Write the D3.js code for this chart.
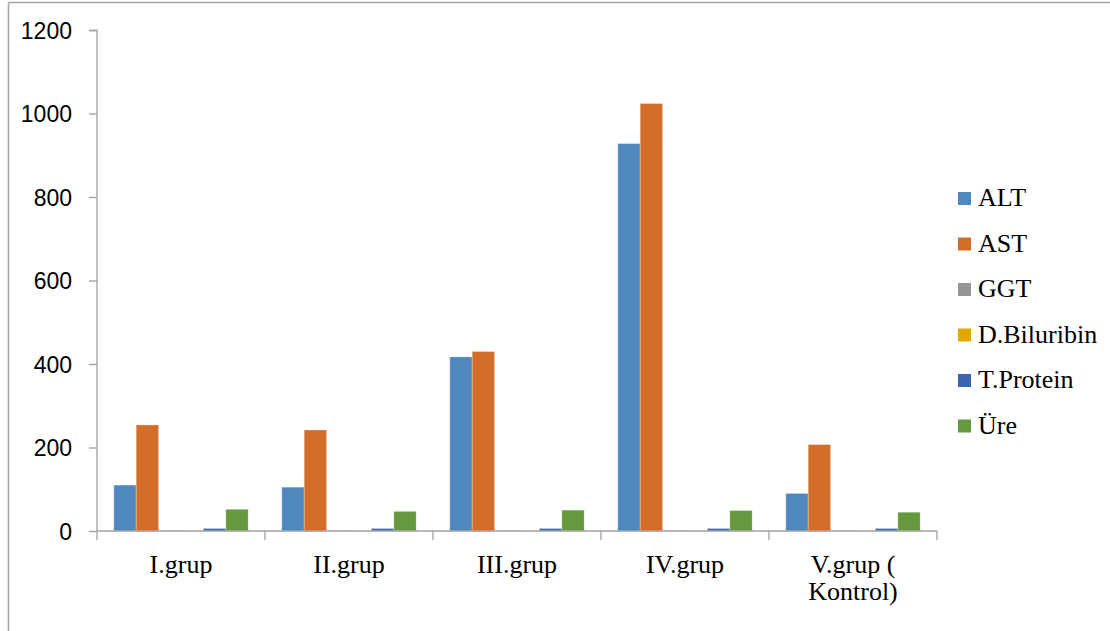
<!DOCTYPE html>
<html>
<head>
<meta charset="utf-8">
<script src="https://cdn.jsdelivr.net/npm/d3@7"></script>
<style>
  html, body { margin: 0; padding: 0; background: #fff; }
  svg { display: block; }
</style>
</head>
<body>
<div id="chart"></div>
<script>
const categories = ["I.grup", "II.grup", "III.grup", "IV.grup", "V.grup ( Kontrol)"];
const categoryLines = [["I.grup"], ["II.grup"], ["III.grup"], ["IV.grup"], ["V.grup (", "Kontrol)"]];
const seriesNames = ["ALT", "AST", "GGT", "D.Biluribin", "T.Protein", "Üre"];
const ALT = [110, 105, 417, 928, 90];
const AST = [254, 242, 430, 1024, 207];
const GGT = [1.2, 1.2, 1.2, 1.2, 1.2];
const DBiluribin = [0.3, 0.3, 0.3, 0.3, 0.3];
const TProtein = [6, 6, 6, 6, 6];
const Ure = [52, 47, 50, 49, 45];
const yTicks = [0, 200, 400, 600, 800, 1000, 1200];
const colors = ["#4E88BE", "#D46D29", "#969696", "#E3A700", "#3D64AF", "#64993D"];

const seriesValues = [ALT, AST, GGT, DBiluribin, TProtein, Ure];

const W = 1110, H = 631;
const svg = d3.select("#chart").append("svg").attr("width", W).attr("height", H);

// outer chart border (top and left visible)
svg.append("line").attr("x1", 8.5).attr("x2", W).attr("y1", 2.5).attr("y2", 2.5)
  .attr("stroke", "#A6A6A6").attr("stroke-width", 1.5);
svg.append("line").attr("x1", 8.5).attr("x2", 8.5).attr("y1", 2.5).attr("y2", H)
  .attr("stroke", "#A6A6A6").attr("stroke-width", 1.5);

const x0 = d3.scaleBand().domain(categories).range([97, 937]).paddingInner(0).paddingOuter(0);
const x1 = d3.scaleBand().domain(seriesNames).range([0, x0.bandwidth()]).paddingInner(0).paddingOuter(0.75);
const y = d3.scaleLinear().domain([0, 1200]).range([531, 30]);

// bars
categories.forEach((c, ci) => {
  const g = svg.append("g").attr("transform", `translate(${x0(c)},0)`);
  seriesNames.forEach((s, si) => {
    const v = seriesValues[si][ci];
    g.append("rect")
      .attr("x", x1(s))
      .attr("y", y(v))
      .attr("width", x1.bandwidth())
      .attr("height", y(0) - y(v))
      .attr("fill", colors[si])
      .attr("stroke", "rgba(255,255,255,0.35)")
      .attr("stroke-width", 0.8);
  });
});

// y axis
const yAxis = d3.axisLeft(y).tickValues(yTicks).tickSize(8).tickPadding(17).tickFormat(d3.format("d"));
const gy = svg.append("g").attr("transform", "translate(97,0)").call(yAxis);
gy.select(".domain").attr("stroke", "#A0A0A0").attr("stroke-width", 1.3).attr("d", "M-8,30.5H0V531");
gy.selectAll(".tick line").attr("stroke", "#A0A0A0").attr("stroke-width", 1.3);
gy.selectAll(".tick text").attr("font-family", "'Liberation Sans', Arial, sans-serif")
  .attr("font-size", 23).attr("fill", "#000").attr("dy", "0.36em");

// x axis line & ticks at category boundaries
const boundaries = categories.map(c => x0(c)).concat([x0(categories[categories.length - 1]) + x0.bandwidth()]);
svg.append("line").attr("x1", 97).attr("x2", 937).attr("y1", 531).attr("y2", 531)
  .attr("stroke", "#A0A0A0").attr("stroke-width", 1.3);
svg.selectAll(".xtick").data(boundaries).enter().append("line")
  .attr("x1", d => d).attr("x2", d => d).attr("y1", 531).attr("y2", 540)
  .attr("stroke", "#A0A0A0").attr("stroke-width", 1.3);

// category labels
categories.forEach((c, ci) => {
  const t = svg.append("text")
    .attr("x", x0(c) + x0.bandwidth() / 2)
    .attr("y", 573)
    .attr("text-anchor", "middle")
    .attr("font-family", "'Liberation Serif', 'Times New Roman', serif")
    .attr("font-size", 26)
    .attr("fill", "#000");
  categoryLines[ci].forEach((ln, li) => {
    t.append("tspan").attr("x", x0(c) + x0.bandwidth() / 2).attr("dy", li === 0 ? 0 : 27).text(ln);
  });
});

// legend
const legend = svg.append("g");
seriesNames.forEach((s, si) => {
  const yy = 192 + si * 45.5;
  legend.append("rect").attr("x", 958).attr("y", yy).attr("width", 13).attr("height", 13).attr("fill", colors[si]);
  legend.append("text").attr("x", 978).attr("y", yy + 14)
    .attr("font-family", "'Liberation Serif', 'Times New Roman', serif")
    .attr("font-size", 26).attr("fill", "#000").text(s);
});
</script>
</body>
</html>
